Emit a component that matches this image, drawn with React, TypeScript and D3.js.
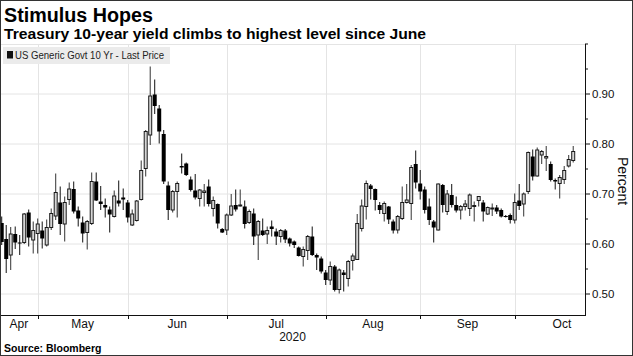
import React from "react";
import * as d3 from "d3";

// ---- DATA (Apr 21 – Oct 2020, daily OHLC, percent) ----
const opens = [
  0.642, 0.61, 0.578, 0.62, 0.603, 0.603, 0.663, 0.608, 0.621, 0.627,
  0.598, 0.633, 0.656, 0.683, 0.64, 0.689, 0.71, 0.667, 0.643, 0.623,
  0.641, 0.725, 0.685, 0.678, 0.669, 0.655, 0.687, 0.693, 0.683, 0.638,
  0.647, 0.689, 0.751, 0.818, 0.899, 0.871, 0.82, 0.717, 0.668, 0.705,
  0.756, 0.761, 0.729, 0.707, 0.691, 0.703, 0.715, 0.671, 0.68, 0.63,
  0.628, 0.658, 0.678, 0.676, 0.675, 0.643, 0.661, 0.618, 0.627, 0.62,
  0.635, 0.625, 0.615, 0.627, 0.611, 0.605, 0.593, 0.575, 0.587, 0.615,
  0.578, 0.571, 0.543, 0.528, 0.555, 0.509, 0.543, 0.531, 0.567, 0.569,
  0.631, 0.675, 0.717, 0.71, 0.678, 0.661, 0.675, 0.645, 0.628, 0.651,
  0.683, 0.681, 0.76, 0.721, 0.709, 0.675, 0.645, 0.628, 0.718, 0.665,
  0.698, 0.678, 0.668, 0.675, 0.671, 0.675, 0.687, 0.683, 0.66, 0.671,
  0.673, 0.668, 0.656, 0.658, 0.648, 0.687, 0.68, 0.705, 0.775, 0.736,
  0.778, 0.772, 0.76, 0.728, 0.721, 0.729, 0.756, 0.767,
];
const highs = [
  0.655, 0.638, 0.634, 0.635, 0.618, 0.662, 0.669, 0.645, 0.651, 0.645,
  0.649, 0.671, 0.741, 0.715, 0.695, 0.723, 0.725, 0.675, 0.655, 0.648,
  0.743, 0.743, 0.716, 0.691, 0.675, 0.707, 0.727, 0.711, 0.688, 0.669,
  0.688, 0.767, 0.828, 0.955, 0.929, 0.878, 0.828, 0.725, 0.708, 0.725,
  0.781, 0.763, 0.735, 0.74, 0.71, 0.72, 0.729, 0.695, 0.681, 0.632,
  0.661, 0.7, 0.709, 0.709, 0.687, 0.669, 0.671, 0.648, 0.651, 0.635,
  0.647, 0.631, 0.63, 0.63, 0.613, 0.607, 0.595, 0.595, 0.618, 0.635,
  0.581, 0.575, 0.548, 0.565, 0.558, 0.551, 0.548, 0.568, 0.581, 0.66,
  0.689, 0.727, 0.72, 0.711, 0.684, 0.685, 0.676, 0.649, 0.658, 0.715,
  0.72, 0.758, 0.787, 0.748, 0.715, 0.691, 0.648, 0.721, 0.72, 0.708,
  0.72, 0.695, 0.678, 0.688, 0.701, 0.685, 0.695, 0.688, 0.675, 0.681,
  0.678, 0.671, 0.658, 0.661, 0.701, 0.72, 0.703, 0.785, 0.789, 0.793,
  0.788, 0.796, 0.765, 0.731, 0.738, 0.756, 0.778, 0.796,
];
const lows = [
  0.598, 0.542, 0.548, 0.59, 0.578, 0.6, 0.595, 0.581, 0.581, 0.591,
  0.595, 0.628, 0.648, 0.618, 0.605, 0.678, 0.661, 0.635, 0.603, 0.589,
  0.638, 0.686, 0.668, 0.653, 0.623, 0.653, 0.675, 0.668, 0.643, 0.636,
  0.645, 0.687, 0.735, 0.798, 0.86, 0.801, 0.72, 0.648, 0.663, 0.653,
  0.741, 0.736, 0.705, 0.689, 0.675, 0.675, 0.675, 0.655, 0.631, 0.622,
  0.618, 0.656, 0.665, 0.675, 0.631, 0.64, 0.598, 0.568, 0.616, 0.6,
  0.615, 0.598, 0.603, 0.602, 0.595, 0.592, 0.575, 0.555, 0.568, 0.576,
  0.548, 0.541, 0.518, 0.518, 0.505, 0.501, 0.505, 0.515, 0.547, 0.568,
  0.625, 0.649, 0.689, 0.667, 0.66, 0.645, 0.64, 0.621, 0.621, 0.648,
  0.681, 0.648, 0.711, 0.689, 0.661, 0.638, 0.603, 0.627, 0.663, 0.658,
  0.673, 0.663, 0.649, 0.667, 0.656, 0.645, 0.675, 0.645, 0.658, 0.656,
  0.66, 0.653, 0.653, 0.641, 0.641, 0.668, 0.655, 0.7, 0.727, 0.735,
  0.76, 0.746, 0.725, 0.709, 0.691, 0.72, 0.753, 0.763,
];
const closes = [
  0.604, 0.57, 0.62, 0.603, 0.601, 0.66, 0.613, 0.627, 0.64, 0.611,
  0.633, 0.661, 0.703, 0.64, 0.683, 0.71, 0.665, 0.651, 0.621, 0.645,
  0.725, 0.687, 0.68, 0.673, 0.659, 0.696, 0.681, 0.689, 0.653, 0.66,
  0.686, 0.747, 0.825, 0.896, 0.876, 0.825, 0.725, 0.668, 0.705, 0.721,
  0.753, 0.738, 0.708, 0.693, 0.708, 0.706, 0.68, 0.687, 0.641, 0.623,
  0.658, 0.676, 0.669, 0.678, 0.64, 0.665, 0.615, 0.645, 0.618, 0.627,
  0.63, 0.615, 0.627, 0.609, 0.601, 0.598, 0.576, 0.589, 0.615, 0.578,
  0.573, 0.545, 0.528, 0.555, 0.508, 0.548, 0.538, 0.565, 0.576, 0.641,
  0.676, 0.721, 0.71, 0.688, 0.668, 0.681, 0.649, 0.627, 0.655, 0.683,
  0.688, 0.753, 0.723, 0.705, 0.668, 0.648, 0.633, 0.72, 0.678, 0.7,
  0.678, 0.667, 0.675, 0.68, 0.698, 0.677, 0.695, 0.665, 0.673, 0.672,
  0.665, 0.655, 0.655, 0.648, 0.683, 0.676, 0.7, 0.783, 0.735, 0.788,
  0.785, 0.775, 0.728, 0.725, 0.733, 0.747, 0.769, 0.785,
];

const monthNames = ["Apr", "May", "Jun", "Jul", "Aug", "Sep", "Oct"];
// index of first trading day of each month (May..Oct)
const monthStarts = [8, 28, 50, 72, 93, 114];
const yearLabel = "2020";
const majorTicks = [0.5, 0.6, 0.7, 0.8, 0.9];
const minorTicks = [0.55, 0.65, 0.75, 0.85, 0.95, 1.0];

const title = "Stimulus Hopes";
const subtitle = "Treasury 10-year yield climbs to highest level since June";
const legendLabel = "US Generic Govt 10 Yr - Last Price";
const axisTitle = "Percent";
const source = "Source: Bloomberg";

const W = 633;
const H = 356;
const plotLeft = 0;
const plotRight = 585;
const plotTop = 44;
const plotBottom = 315;
const FONT = "'Liberation Sans', Arial, sans-serif";

export default function App() {
  const n = opens.length;
  const x = d3.scaleLinear().domain([-0.38, 129.62]).range([plotLeft, plotRight]);
  const y = d3.scaleLinear().domain([0.458, 1.0]).range([plotBottom, plotTop]);

  const candles = d3.range(n).map((i) => ({
    i,
    o: opens[i],
    h: highs[i],
    l: lows[i],
    c: closes[i],
  }));

  const monthTickX = monthStarts.map((m) => x(m));
  const labelX = monthNames.map((_, k) => {
    if (k === 0) return (plotLeft + monthTickX[0]) / 2;
    if (k === monthNames.length - 1) return x(monthStarts[k - 1] + 10.5);
    return (monthTickX[k - 1] + monthTickX[k]) / 2;
  });

  return (
    <svg
      width={W}
      height={H}
      style={{ position: "absolute", left: 0, top: 0, background: "#fff" }}
      fontFamily={FONT}
    >
      <rect x={0} y={0} width={W} height={H} fill="#fff" />

      {/* gridlines */}
      {majorTicks.map((t) => (
        <line key={"hg" + t} x1={plotLeft} x2={plotRight} y1={y(t)} y2={y(t)} stroke="#e4e4e4" strokeWidth={1} />
      ))}
      <line x1={plotLeft} x2={plotRight} y1={plotTop + 0.5} y2={plotTop + 0.5} stroke="#e4e4e4" strokeWidth={1} />
      {monthTickX.map((mx, k) => (
        <line key={"vg" + k} x1={Math.round(mx) + 0.5} x2={Math.round(mx) + 0.5} y1={plotTop} y2={plotBottom} stroke="#e4e4e4" strokeWidth={1} />
      ))}

      {/* legend */}
      <rect x={3} y={47} width={167} height={17} fill="#ebebeb" />
      <rect x={7} y={51} width={6} height={7.5} fill="#111" />
      <text x={15} y={59} fontSize={10.5} fill="#222" textLength={149} lengthAdjust="spacingAndGlyphs">
        {legendLabel}
      </text>

      {/* candles */}
      {candles.map((d) => {
        const cx = x(d.i);
        const up = d.c >= d.o;
        const top = y(Math.max(d.o, d.c));
        const bot = y(Math.min(d.o, d.c));
        const bh = Math.max(1, bot - top);
        return (
          <g key={d.i}>
            <line x1={cx} x2={cx} y1={y(d.h)} y2={y(d.l)} stroke={up ? "#333" : "#111"} strokeWidth={1} />
            {up ? (
              <rect x={cx - 1.5} y={top} width={3} height={bh} fill="#d6d6d6" stroke="#1a1a1a" strokeWidth={1} />
            ) : (
              <rect x={cx - 2} y={top} width={4} height={bh} fill="#000" />
            )}
          </g>
        );
      })}

      {/* right axis */}
      <line x1={plotRight + 0.5} x2={plotRight + 0.5} y1={plotTop} y2={plotBottom} stroke="#111" strokeWidth={1} />
      {majorTicks.map((t) => (
        <g key={"yt" + t}>
          <line x1={plotRight} x2={plotRight + 5} y1={y(t)} y2={y(t)} stroke="#111" strokeWidth={1} />
          <text x={plotRight + 7} y={y(t) + 4} fontSize={11.5} fill="#111">
            {d3.format(".2f")(t)}
          </text>
        </g>
      ))}
      {minorTicks.map((t) => (
        <line key={"ym" + t} x1={plotRight} x2={plotRight + 3} y1={y(t)} y2={y(t)} stroke="#111" strokeWidth={1} />
      ))}
      <text
        transform={`translate(618, 181) rotate(90)`}
        textAnchor="middle"
        fontSize={14}
        fill="#111"
      >
        {axisTitle}
      </text>

      {/* bottom axis */}
      <line x1={plotLeft} x2={plotRight + 1} y1={plotBottom + 0.5} y2={plotBottom + 0.5} stroke="#111" strokeWidth={1} />
      {monthTickX.map((mx, k) => (
        <line key={"xt" + k} x1={Math.round(mx) + 0.5} x2={Math.round(mx) + 0.5} y1={plotBottom} y2={plotBottom + 4} stroke="#111" strokeWidth={1} />
      ))}
      {monthNames.map((m, k) => (
        <text key={m} x={labelX[k]} y={328} textAnchor="middle" fontSize={12} fill="#111">
          {m}
        </text>
      ))}
      <text x={(plotLeft + plotRight) / 2} y={341} textAnchor="middle" fontSize={12} fill="#111">
        {yearLabel}
      </text>

      {/* titles */}
      <text x={4} y={22} fontSize={20} fontWeight="bold" fill="#000" textLength={149} lengthAdjust="spacingAndGlyphs">
        {title}
      </text>
      <text x={4} y={39} fontSize={14} fontWeight="bold" fill="#000" textLength={422} lengthAdjust="spacingAndGlyphs">
        {subtitle}
      </text>
      <text x={4} y={352} fontSize={10.5} fontWeight="bold" fill="#000">
        {source}
      </text>

      {/* frame */}
      <rect x={0.5} y={0.5} width={W - 1} height={H - 1} fill="none" stroke="#333" strokeWidth={1} />
    </svg>
  );
}
